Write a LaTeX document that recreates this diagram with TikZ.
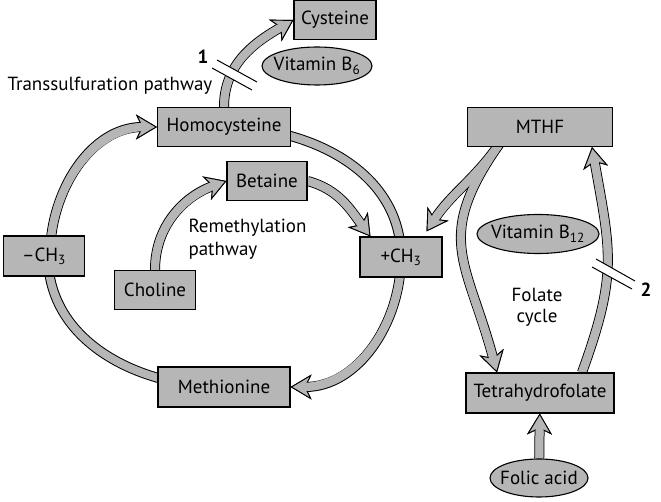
\documentclass[tikz,border=0pt]{standalone}
\usepackage{fontspec}
\setmainfont{PT Sans}
\usetikzlibrary{arrows.meta, shapes.geometric, positioning, calc}
\definecolor{boxgray}{RGB}{182,182,182}
\pgfdeclarelayer{background}
\pgfsetlayers{background,main}

\tikzset{
  box/.style={draw, fill=boxgray, line width=1.1pt, minimum height=39pt, inner sep=1pt},
  oval/.style={ellipse, draw, fill=boxgray, line width=1.1pt, inner sep=0pt},
  num/.style={font=\fontsize{19}{22}\selectfont\bfseries},
  tipc/.style={-{Stealth[length=21pt,width=25pt,inset=6pt,fill=boxgray,color=black,line width=0.9pt]}},
  outerband/.style={draw=black, line width=10pt},
  innerband/.style={draw=boxgray, line width=8pt},
  plug/.style={postaction={draw=boxgray, line width=8pt, arrows=-, shorten >=11pt}},
  flow/.style={innerband, tipc, plug, preaction={outerband}},
  band/.style={innerband, preaction={outerband}},
  cut/.style={fill=white, draw=none},
}

\begin{document}
\begin{tikzpicture}[x=1pt, y=1pt, font=\fontsize{19}{22}\selectfont]
\useasboundingbox (0,0) rectangle (661,-502);

% methionine cycle
\node[box, minimum width=133pt] (homo) at (224,-127) {Homocysteine};
\node[box, minimum width=82pt] (cys) at (335,-20) {Cysteine};
\node[box, minimum width=80pt] (bet) at (267,-181) {Betaine};
\node[box, minimum width=81pt, minimum height=40pt] (minus) at (44,-256) {–CH\textsubscript{3}};
\node[box, minimum width=81pt] (chol) at (155,-290) {Choline};
\node[box, minimum width=82pt, minimum height=40pt] (plus) at (401,-257) {+CH\textsubscript{3}};
\node[box, minimum width=132pt, minimum height=40pt] (meth) at (224,-387) {Methionine};
\node[oval, minimum width=110pt, minimum height=38pt,
  label=center:{Vitamin B\textsubscript{6}}] (vb6) at (317,-66) {};

% folate cycle
\node[box, minimum width=145pt] (mthf) at (540,-127) {MTHF};
\node[box, minimum width=148pt, minimum height=40pt] (thf) at (540,-393) {Tetrahydrofolate};
\node[oval, minimum width=122pt, minimum height=39pt,
  label=center:{Vitamin B\textsubscript{12}}] (vb12) at (538,-234) {};
\node[oval, minimum width=98pt, minimum height=38pt,
  label=center:{Folic acid}] (folic) at (539,-478) {};

% labels
\node[anchor=west] (tsp) at (4,-86) {Transsulfuration pathway};
\node[anchor=west, align=left, font=\fontsize{19}{23}\selectfont] (rmp) at (185,-239) {Remethylation\\pathway};
\node[align=center, font=\fontsize{19}{21}\selectfont] (fcl) at (537,-307) {Folate\\cycle};
\node[num] (n1) at (203,-57) {1};
\node[num] (n2) at (646,-290) {2};

\begin{pgfonlayer}{background}
\draw[flow] ([xshift=6pt]minus.center) to[out=90,in=180] (homo.west);
\draw[band] (homo.center) to[out=0,in=90] (plus.center);
\draw[flow] (plus.center) to[out=-90,in=0] (meth.east);
\draw[band] (meth.center) to[out=180,in=-90] ([xshift=4pt]minus.center);
\draw[flow] (homo.north) to[out=90,in=210] (cys.west);
\draw[flow] (chol.north) to[out=90,in=200] (bet.west);
\draw[flow] (bet.east) to[out=-15,in=127] ([xshift=11pt]plus.north west);
% fork below MTHF
\path[outerband, tipc] ([xshift=-40pt,yshift=4pt]mthf.south) to[out=235,in=57] ([xshift=-16pt,yshift=5pt]plus.north east);
\path[outerband, tipc] ([xshift=-40pt,yshift=4pt]mthf.south) to[out=235,in=105,looseness=1.3] ([xshift=-43pt]thf.north);
\path[innerband, tipc, plug] ([xshift=-40pt,yshift=4pt]mthf.south) to[out=235,in=57] ([xshift=-16pt,yshift=5pt]plus.north east);
\path[innerband, tipc, plug] ([xshift=-40pt,yshift=4pt]mthf.south) to[out=235,in=105,looseness=1.3] ([xshift=-43pt]thf.north);
\draw[flow] ([xshift=42pt]thf.north) to[out=70,in=-80,looseness=1.2] ([xshift=52pt]mthf.south);
\draw[flow] (folic) -- (thf);
\end{pgfonlayer}

% blocked steps
\filldraw[cut] (217,-60) -- (257,-82) -- (252,-90) -- (212,-68) -- cycle;
\draw[line width=1pt] (217,-60) -- (257,-82) (212,-68) -- (252,-90);
\filldraw[cut] (596,-259) -- (635,-281) -- (632,-289) -- (592,-267) -- cycle;
\draw[line width=1pt] (596,-259) -- (635,-281) (592,-267) -- (632,-289);
\end{tikzpicture}
\end{document}
